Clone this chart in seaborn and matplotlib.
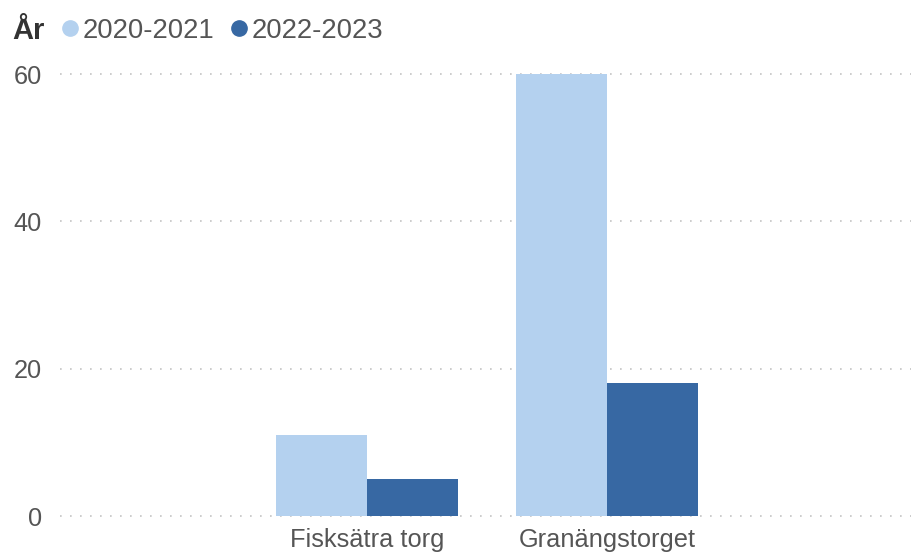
import seaborn as sns
import matplotlib.pyplot as plt
import pandas as pd
from matplotlib.lines import Line2D

# data
platser = ['Fisksätra torg', 'Granängstorget']
period_a = [11, 60]   # 2020-2021
period_b = [5, 18]    # 2022-2023
perioder = ['2020-2021', '2022-2023']
farger = ['#b4d1ef', '#3768a3']

df = pd.DataFrame({
    'Plats': platser * 2,
    'År': [perioder[0]] * len(platser) + [perioder[1]] * len(platser),
    'Antal': period_a + period_b,
})

sns.set_style('white')
plt.rcParams['font.family'] = ['Liberation Sans', 'DejaVu Sans']
textfarg = '#555555'

W, H = 912, 552
fig = plt.figure(figsize=(W / 100, H / 100), dpi=100)
# axes placed in pixel coords: left 60, right 912, top 70, bottom 520
ax = fig.add_axes([60 / W, 1 - 520 / H, (912 - 60) / W, (520 - 70) / H])

sns.barplot(data=df, x='Plats', y='Antal', hue='År', palette=farger,
            saturation=1, width=0.76, gap=0, ax=ax, legend=False,
            linewidth=0, edgecolor='none')

# y scale: 0 at px 516, 60 at px 74
ppu = (516 - 74) / 60
ax.set_ylim(-(520 - 516) / ppu, 60 + (74 - 70) / ppu)
ax.set_xlim(-(367 - 60) / 240, (912 - 367) / 240)
ax.set_yticks([0, 20, 40, 60])

ax.grid(axis='y', color='#c4c4c4', linestyle=(0, (1, 5)), linewidth=1.2)
ax.set_axisbelow(True)
sns.despine(ax=ax, left=True, bottom=True)
ax.set_xlabel('')
ax.set_ylabel('')
ax.tick_params(axis='both', length=0, colors=textfarg, labelsize=18.3)
ax.tick_params(axis='y', pad=13)
ax.tick_params(axis='x', pad=6)

# legend row at the top
fig.text(12 / W, 1 - 31 / H, 'År', fontsize=21, fontweight='bold',
         color='#333333', va='center', ha='left')
handles = [Line2D([], [], marker='o', linestyle='', markersize=11,
                  markerfacecolor=c, markeredgecolor=c) for c in farger]
fig.legend(handles, perioder, loc='center left', ncol=2,
           bbox_to_anchor=(60 / W, 1 - 31 / H), frameon=False,
           fontsize=19.8, labelcolor=textfarg, handlelength=0.7,
           handletextpad=0.12, columnspacing=0.55, borderaxespad=0, borderpad=0)

fig.savefig('out.png', dpi=100)
